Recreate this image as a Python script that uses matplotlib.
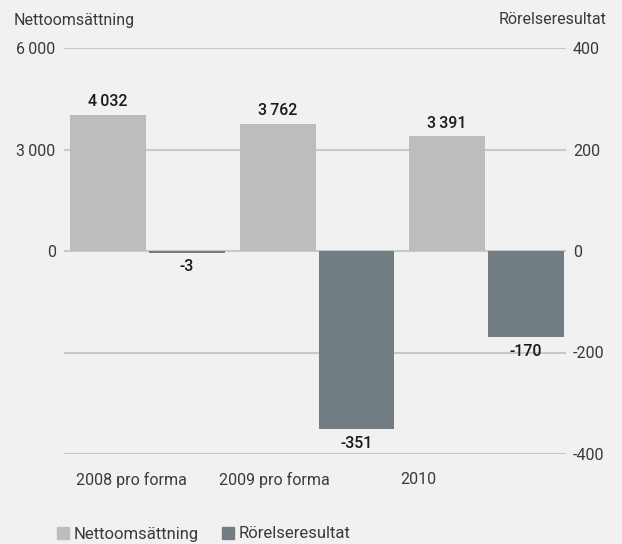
import matplotlib.pyplot as plt
from matplotlib.patches import Patch

# data
years = ["2008 pro forma", "2009 pro forma", "2010"]
nettoomsattning = [4032, 3762, 3391]
rorelseresultat = [-3, -351, -170]

left_ticks = [-6000, -3000, 0, 3000, 6000]
left_labels = ["", "", "0", "3\u2009000", "6\u2009000"]
right_ticks = [-400, -200, 0, 200, 400]

bg = "#f1f1f1"
c_light = "#bdbdbd"
c_dark = "#717c83"
c_grid = "#c9c9c9"
c_text = "#3a3a3a"
c_val = "#1a1a1a"

plt.rcParams["font.family"] = ["Roboto", "DejaVu Sans"]
fs = 11.5

fig = plt.figure(figsize=(6.22, 5.44), dpi=100, facecolor=bg)
ax = fig.add_axes([64 / 622, 1 - 454 / 544, 502 / 622, 406 / 544])
ax.set_facecolor(bg)
ax2 = ax.twinx()

w = 0.446
off = 0.232
x = list(range(len(years)))

ax.bar([i - off for i in x], nettoomsattning, width=w, color=c_light, zorder=2)
ax2.bar([i + off for i in x], rorelseresultat, width=w, color=c_dark, zorder=2)

ax.set_xlim(-0.493, 2.469)
ax.set_ylim(-6000, 6000)
ax2.set_ylim(-400, 400)

ax.set_yticks(left_ticks)
ax.set_yticklabels(left_labels)
ax2.set_yticks(right_ticks)
ax2.set_yticklabels([str(t) for t in right_ticks])

ax.grid(axis="y", color=c_grid, linewidth=1.5, zorder=0)
ax.set_axisbelow(True)

# category labels sit a bit left of the groups in the original
ax.set_xticks([-0.097 + 0.846 * i for i in x])
ax.set_xticklabels(years)

for a in (ax, ax2):
    for s in a.spines.values():
        s.set_visible(False)
ax.tick_params(axis="y", length=0, pad=6, labelsize=fs, labelcolor=c_text)
ax2.tick_params(axis="y", length=0, pad=5, labelsize=fs, labelcolor=c_text)
ax.tick_params(axis="x", length=0, pad=13, labelsize=fs, labelcolor=c_text)

for i, v in zip(x, nettoomsattning):
    txt = f"{v:,}".replace(",", "\u2009")
    ax.annotate(txt, (i - off, v), xytext=(0, 4), textcoords="offset points",
                ha="center", va="bottom", fontsize=fs, fontweight="medium", color=c_val)
for i, v in zip(x, rorelseresultat):
    ax2.annotate(str(v), (i + off, v), xytext=(0, -5), textcoords="offset points",
                 ha="center", va="top", fontsize=fs, fontweight="medium", color=c_val)

fig.text(14 / 622, 1 - 20 / 544, "Nettoomsättning", ha="left", va="center",
         fontsize=fs, color=c_text)
fig.text(606 / 622, 1 - 20 / 544, "Rörelseresultat", ha="right", va="center",
         fontsize=fs, color=c_text)

handles = [Patch(color=c_light, label="Nettoomsättning"),
           Patch(color=c_dark, label="Rörelseresultat")]
fig.legend(handles=handles, loc="center left", bbox_to_anchor=(57 / 622, 1 - 534 / 544),
           ncol=2, frameon=False, fontsize=fs + 0.5, handlelength=0.7, handleheight=0.7,
           handletextpad=0.3, columnspacing=1.4, borderpad=0, borderaxespad=0,
           labelcolor=c_text)

fig.savefig("out.png", dpi=100, facecolor=bg)
